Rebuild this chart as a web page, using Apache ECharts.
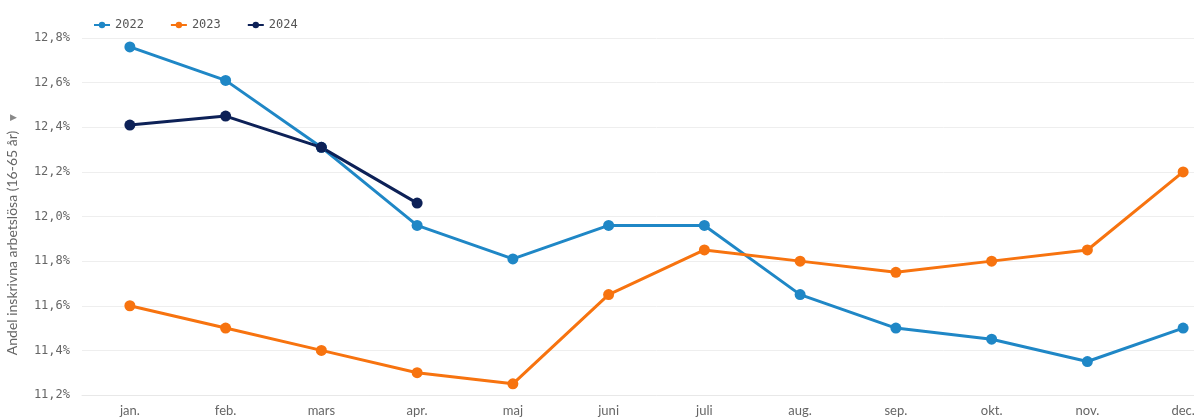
<!DOCTYPE html>
<html>
<head>
<meta charset="utf-8">
<script src="https://cdn.jsdelivr.net/npm/echarts@6/dist/echarts.min.js"></script>
<style>
  html, body { margin: 0; padding: 0; background: #fff; overflow: hidden; }
  #chart { width: 1231px; height: 417px; }
</style>
</head>
<body>
<div id="chart"></div>
<script>
var months = ["jan.", "feb.", "mars", "apr.", "maj", "juni", "juli", "aug.", "sep.", "okt.", "nov.", "dec."];
var years = ["2022", "2023", "2024"];
var colors = ["#1f87c6", "#f7730f", "#0d2157"];

var v2022 = [12.76, 12.61, 12.31, 11.96, 11.81, 11.96, 11.96, 11.65, 11.5, 11.45, 11.35, 11.5];
var v2023 = [11.6, 11.5, 11.4, 11.3, 11.25, 11.65, 11.85, 11.8, 11.75, 11.8, 11.85, 12.2];
var v2024 = [12.41, 12.45, 12.31, 12.06];

var yTicks = [11.2, 11.4, 11.6, 11.8, 12.0, 12.2, 12.4, 12.6, 12.8];

// the plot runs past the right edge of the window, so the div is wider than the view
var chart = echarts.init(document.getElementById("chart"));

function mkSeries(name, data, color) {
  return {
    name: name,
    type: "line",
    data: data,
    symbol: "circle",
    symbolSize: 11,
    lineStyle: { color: color, width: 3 },
    itemStyle: { color: color },
    emphasis: { disabled: true },
    animation: false
  };
}

var option = {
  color: colors,
  legend: {
    left: 88,
    top: 14,
    itemWidth: 16,
    itemHeight: 8,
    itemGap: 26,
    textStyle: { fontFamily: "DejaVu Sans Mono", fontSize: 12, color: "#555" },
    data: years
  },
  grid: { left: 82, right: 0, top: 38, bottom: 22 },
  xAxis: {
    type: "category",
    data: months,
    axisLine: { lineStyle: { color: "#e8e8e8" } },
    axisTick: { show: false },
    axisLabel: { fontFamily: "Lato", fontSize: 13, color: "#666", margin: 9 }
  },
  yAxis: {
    type: "value",
    min: yTicks[0],
    max: yTicks[yTicks.length - 1],
    interval: 0.2,
    axisLine: { show: false },
    axisTick: { show: false },
    splitLine: { lineStyle: { color: "#eeeeee" } },
    axisLabel: {
      fontFamily: "DejaVu Sans Mono",
      fontSize: 12,
      color: "#666",
      margin: 12,
      formatter: function (v) { return v.toFixed(1).replace(".", ",") + "%"; }
    }
  },
  graphic: [
    {
      type: "text",
      x: 12,
      y: 243,
      rotation: Math.PI / 2,
      style: {
        text: "Andel inskrivna arbetslösa (16-65 år)",
        fontFamily: "Lato",
        fontSize: 14,
        fill: "#666",
        align: "center",
        verticalAlign: "middle"
      }
    },
    {
      type: "text",
      x: 13,
      y: 118,
      style: {
        text: "▶",
        fontSize: 9,
        fill: "#888",
        align: "center",
        verticalAlign: "middle"
      }
    }
  ],
  series: [
    mkSeries("2022", v2022, colors[0]),
    mkSeries("2023", v2023, colors[1]),
    mkSeries("2024", v2024, colors[2])
  ]
};

chart.setOption(option);
</script>
</body>
</html>
